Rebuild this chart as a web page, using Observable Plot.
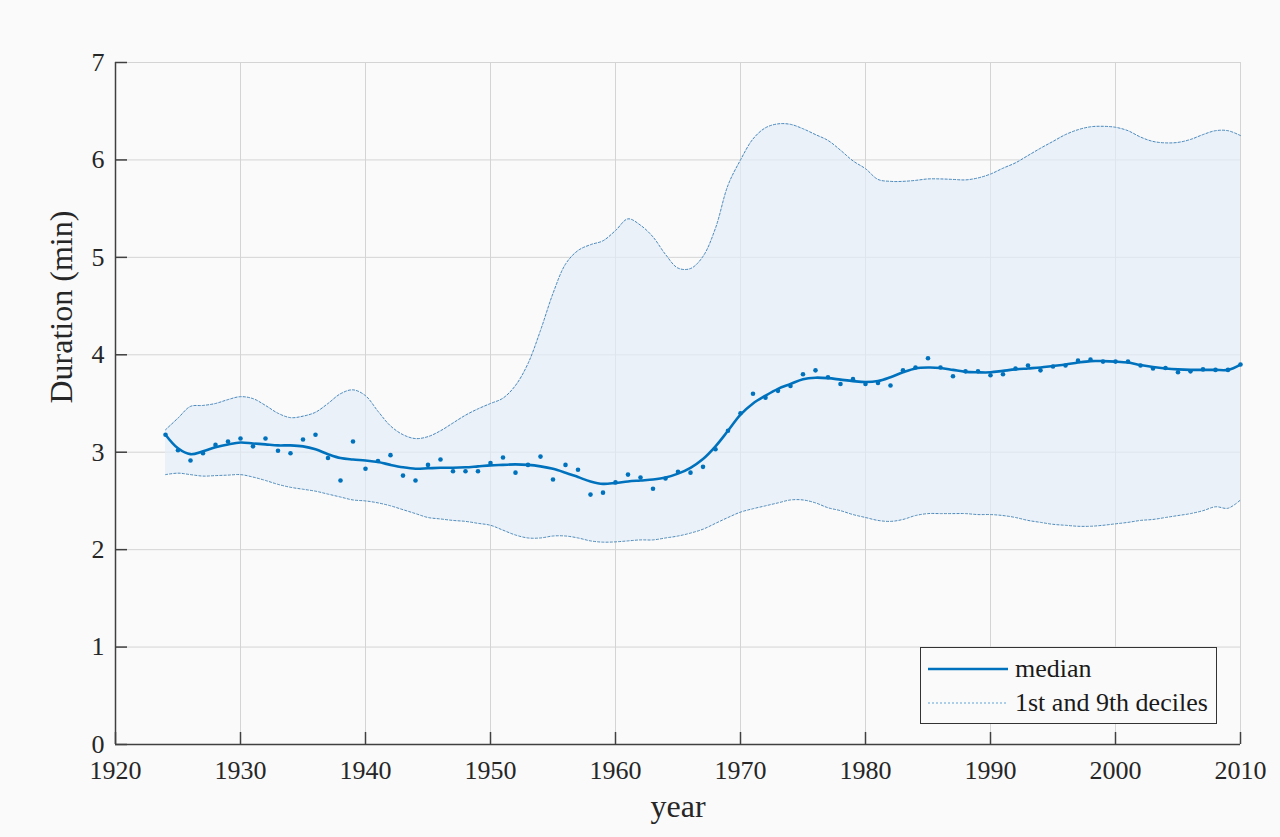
<!DOCTYPE html>
<html>
<head>
<meta charset="utf-8">
<script src="https://cdn.jsdelivr.net/npm/d3@7"></script>
<script src="https://cdn.jsdelivr.net/npm/@observablehq/plot@0.6"></script>
<style>
  html, body { margin: 0; padding: 0; background: #fafafa; }
  #wrap { position: relative; width: 1280px; height: 837px; }
  #legend {
    position: absolute; left: 920px; top: 647px; width: 297px; height: 77px;
    border: 1.5px solid #333; background: #fafafa; box-sizing: border-box;
    font-family: "Liberation Serif", serif; font-size: 26px; color: #1a1a1a;
  }
  .row { position: absolute; left: 0; height: 34px; display: flex; align-items: center; }
  .row svg { margin-left: 7px; margin-right: 7px; }
</style>
</head>
<body>
<div id="wrap">
  <div id="chart"></div>
  <div id="legend">
    <div class="row" style="top:4px"><svg width="80" height="10"><line x1="0" x2="80" y1="5" y2="5" stroke="#0072BD" stroke-width="2.5"/></svg><span>median</span></div>
    <div class="row" style="top:38px"><svg width="80" height="10"><line x1="0" x2="80" y1="5" y2="5" stroke="#5fa3d6" stroke-width="1" stroke-dasharray="2,2"/></svg><span>1st and 9th deciles</span></div>
  </div>
</div>
<script>
const years = [1924,1925,1926,1927,1928,1929,1930,1931,1932,1933,1934,1935,1936,1937,1938,1939,
1940,1941,1942,1943,1944,1945,1946,1947,1948,1949,1950,1951,1952,1953,1954,1955,1956,1957,1958,1959,
1960,1961,1962,1963,1964,1965,1966,1967,1968,1969,1970,1971,1972,1973,1974,1975,1976,1977,1978,1979,
1980,1981,1982,1983,1984,1985,1986,1987,1988,1989,1990,1991,1992,1993,1994,1995,1996,1997,1998,1999,
2000,2001,2002,2003,2004,2005,2006,2007,2008,2009,2010];

// yearly median durations (dots)
const yearlyMedian = [3.18,3.02,2.915,2.99,3.075,3.11,3.14,3.06,3.14,3.015,2.99,3.13,3.18,2.94,2.71,3.11,
2.83,2.91,2.97,2.76,2.71,2.87,2.925,2.805,2.805,2.805,2.89,2.945,2.79,2.87,2.955,2.72,2.87,2.82,2.565,2.585,
2.69,2.77,2.74,2.625,2.73,2.80,2.79,2.85,3.03,3.22,3.40,3.60,3.56,3.63,3.68,3.80,3.84,3.77,3.70,3.75,
3.70,3.71,3.685,3.84,3.87,3.965,3.87,3.78,3.83,3.83,3.79,3.80,3.86,3.89,3.84,3.88,3.89,3.94,3.95,3.93,
3.93,3.93,3.89,3.86,3.865,3.82,3.83,3.85,3.845,3.845,3.90];

// smoothed median
const smoothMedian = [3.18,3.04,2.98,3.01,3.05,3.08,3.10,3.09,3.08,3.07,3.07,3.06,3.03,2.98,2.94,2.925,
2.915,2.90,2.87,2.845,2.83,2.835,2.84,2.84,2.845,2.855,2.865,2.87,2.875,2.87,2.855,2.83,2.79,2.745,2.70,2.675,
2.685,2.70,2.71,2.72,2.74,2.78,2.84,2.93,3.06,3.22,3.385,3.50,3.58,3.65,3.70,3.75,3.765,3.76,3.745,3.73,
3.72,3.73,3.77,3.82,3.86,3.87,3.865,3.845,3.825,3.82,3.82,3.835,3.85,3.86,3.87,3.885,3.90,3.92,3.935,3.935,
3.93,3.92,3.895,3.875,3.86,3.85,3.845,3.845,3.845,3.845,3.90];

// 1st decile
const decile1 = [2.77,2.785,2.77,2.755,2.76,2.765,2.77,2.745,2.71,2.67,2.64,2.62,2.60,2.57,2.54,2.51,
2.50,2.48,2.45,2.41,2.37,2.33,2.315,2.30,2.29,2.27,2.25,2.20,2.15,2.12,2.12,2.14,2.14,2.12,2.09,2.077,
2.08,2.09,2.10,2.10,2.12,2.14,2.17,2.21,2.27,2.33,2.385,2.42,2.45,2.48,2.51,2.51,2.48,2.43,2.40,2.36,
2.33,2.30,2.29,2.31,2.35,2.37,2.37,2.37,2.37,2.36,2.36,2.35,2.33,2.30,2.28,2.26,2.25,2.24,2.24,2.25,
2.265,2.28,2.30,2.31,2.33,2.35,2.37,2.40,2.44,2.425,2.51];

// 9th decile
const decile9 = [3.23,3.35,3.47,3.48,3.50,3.54,3.57,3.55,3.48,3.40,3.355,3.37,3.41,3.50,3.60,3.64,
3.58,3.42,3.27,3.18,3.14,3.16,3.22,3.30,3.38,3.445,3.50,3.555,3.685,3.91,4.25,4.63,4.93,5.07,5.13,5.17,
5.275,5.395,5.33,5.21,5.03,4.89,4.885,5.01,5.30,5.74,6.00,6.215,6.33,6.37,6.365,6.32,6.26,6.20,6.10,5.99,
5.91,5.80,5.78,5.78,5.79,5.805,5.805,5.80,5.795,5.815,5.855,5.915,5.97,6.045,6.12,6.19,6.26,6.31,6.34,6.345,
6.335,6.30,6.235,6.19,6.175,6.18,6.21,6.26,6.30,6.30,6.25];

const xTicks = [1920,1930,1940,1950,1960,1970,1980,1990,2000,2010];
const yTicks = [0,1,2,3,4,5,6,7];

const W = 1280, H = 837;
const ML = 115, MR = 40, MT = 62, MB = 93;
const PW = W - ML - MR, PH = H - MT - MB;

const rows = years.map((yr, i) => ({
  year: yr, point: yearlyMedian[i], med: smoothMedian[i], lo: decile1[i], hi: decile9[i]
}));

const axisColor = "#404040";
const blue = "#0072BD";
const decColor = "#3a7db5";

const chart = Plot.plot({
  width: W, height: H,
  marginLeft: ML, marginRight: MR, marginTop: MT, marginBottom: MB,
  style: { background: "#fafafa", fontFamily: "Liberation Serif, serif", fontSize: "26px", color: "#262626", overflow: "visible" },
  x: { domain: [1920, 2010] },
  y: { domain: [0, 7] },
  marks: [
    Plot.gridX({ ticks: xTicks, stroke: "#d4d4d4", strokeOpacity: 1, strokeWidth: 1 }),
    Plot.gridY({ ticks: yTicks, stroke: "#d4d4d4", strokeOpacity: 1, strokeWidth: 1 }),
    Plot.areaY(rows, { x: "year", y1: "lo", y2: "hi", fill: "#e3ecf7", fillOpacity: 0.7, curve: "catmull-rom" }),
    Plot.lineY(rows, { x: "year", y: "lo", stroke: decColor, strokeWidth: 1, strokeOpacity: 0.9, strokeDasharray: "2.2,2", curve: "catmull-rom" }),
    Plot.lineY(rows, { x: "year", y: "hi", stroke: decColor, strokeWidth: 1, strokeOpacity: 0.9, strokeDasharray: "2.2,2", curve: "catmull-rom" }),
    Plot.lineY(rows, { x: "year", y: "med", stroke: blue, strokeWidth: 2.6, curve: "catmull-rom" }),
    Plot.dot(rows, { x: "year", y: "point", r: 2.3, fill: blue, stroke: null }),
    Plot.axisX({ ticks: xTicks, tickSize: 0, tickPadding: 16, tickFormat: d => String(d), label: null, fontSize: 26 }),
    Plot.axisY({ ticks: yTicks, tickSize: 0, tickPadding: 11, tickFormat: d => String(d), label: null, fontSize: 26 }),
    Plot.ruleX([1920], { stroke: axisColor, strokeWidth: 1.5 }),
    Plot.ruleY([0], { stroke: axisColor, strokeWidth: 1.5 }),
    Plot.tickX(xTicks, { x: d => d, insetTop: PH - 12, stroke: axisColor, strokeWidth: 1.5 }),
    Plot.tickY(yTicks, { y: d => d, insetRight: PW - 12, stroke: axisColor, strokeWidth: 1.5 }),
    Plot.text(["year"], { text: d => d, frameAnchor: "bottom", dy: 72, fontSize: 32, fill: "#262626" }),
    Plot.text(["Duration (min)"], { text: d => d, frameAnchor: "left", dx: -54, rotate: -90, fontSize: 32, fill: "#262626" })
  ]
});
document.getElementById("chart").appendChild(chart);
</script>
</body>
</html>
